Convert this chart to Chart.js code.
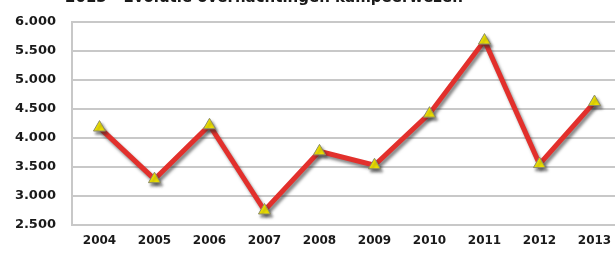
<!DOCTYPE html>
<html>
<head>
<meta charset="utf-8">
<script src="https://cdn.jsdelivr.net/npm/chart.js@4/dist/chart.umd.min.js"></script>
<style>
    html, body { margin: 0; padding: 0; background: #fff; overflow: hidden; }
    #wrap { position: absolute; left: 0; top: -12px; width: 630px; height: 265px; }
</style>
</head>
<body>
<div id="wrap"><canvas id="campChart" width="630" height="265"></canvas></div>
<script>
const titleText = '2013 - Evolutie overnachtingen kampeerwezen';
const years = ['2004', '2005', '2006', '2007', '2008', '2009', '2010', '2011', '2012', '2013'];
const overnachtingen = [4180, 3290, 4220, 2750, 3770, 3530, 4420, 5680, 3550, 4620];
const yMin = 2500;
const yMax = 6000;
const yStep = 500;

function formatThousands(v) {
    return String(v).replace(/\B(?=(\d{3})+(?!\d))/g, '.');
}

// title sits mostly above the visible window, only its lower part shows
const topTitle = {
    id: 'topTitle',
    afterDraw(chart) {
        const ctx = chart.ctx;
        ctx.save();
        ctx.font = 'bold 15px "DejaVu Sans"';
        ctx.fillStyle = '#1a1a1a';
        ctx.textAlign = 'left';
        ctx.textBaseline = 'alphabetic';
        ctx.fillText(titleText, 65, 14);
        ctx.restore();
    }
};

const lineShadow = {
    id: 'lineShadow',
    beforeDatasetsDraw(chart) {
        const ctx = chart.ctx;
        ctx.save();
        ctx.shadowColor = 'rgba(40, 40, 40, 0.55)';
        ctx.shadowBlur = 3;
        ctx.shadowOffsetX = 2;
        ctx.shadowOffsetY = 3;
    },
    afterDatasetsDraw(chart) {
        chart.ctx.restore();
    }
};

new Chart(document.querySelector('#campChart'), {
    type: 'line',
    data: {
        labels: years,
        datasets: [{
            data: overnachtingen,
            borderColor: '#e2302c',
            borderWidth: 5,
            tension: 0,
            pointStyle: 'triangle',
            pointRadius: 7,
            pointBackgroundColor: '#f2e400',
            pointBorderColor: '#8c8c6a',
            pointBorderWidth: 1
        }]
    },
    options: {
        responsive: false,
        animation: false,
        layout: { padding: { top: 34, right: 6, left: 0, bottom: 0 } },
        plugins: {
            legend: { display: false },
            tooltip: { enabled: false }
        },
        scales: {
            x: {
                offset: true,
                grid: { display: false, drawTicks: false },
                border: { display: true, color: '#c8c8c8', width: 2 },
                ticks: {
                    padding: 9,
                    color: '#1a1a1a',
                    font: { family: 'DejaVu Sans', weight: 'bold', size: 12 }
                },
                afterFit(scale) { scale.height = 28; }
            },
            y: {
                min: yMin,
                max: yMax,
                grid: { color: '#c8c8c8', lineWidth: 2, drawTicks: false },
                border: { display: true, color: '#c8c8c8', width: 2 },
                ticks: {
                    stepSize: yStep,
                    padding: 16,
                    color: '#1a1a1a',
                    font: { family: 'DejaVu Sans', weight: 'bold', size: 13 },
                    callback: function (value) {
                        return formatThousands(value);
                    }
                },
                afterFit(scale) { scale.width = 72; }
            }
        }
    },
    plugins: [lineShadow, topTitle]
});
</script>
</body>
</html>
